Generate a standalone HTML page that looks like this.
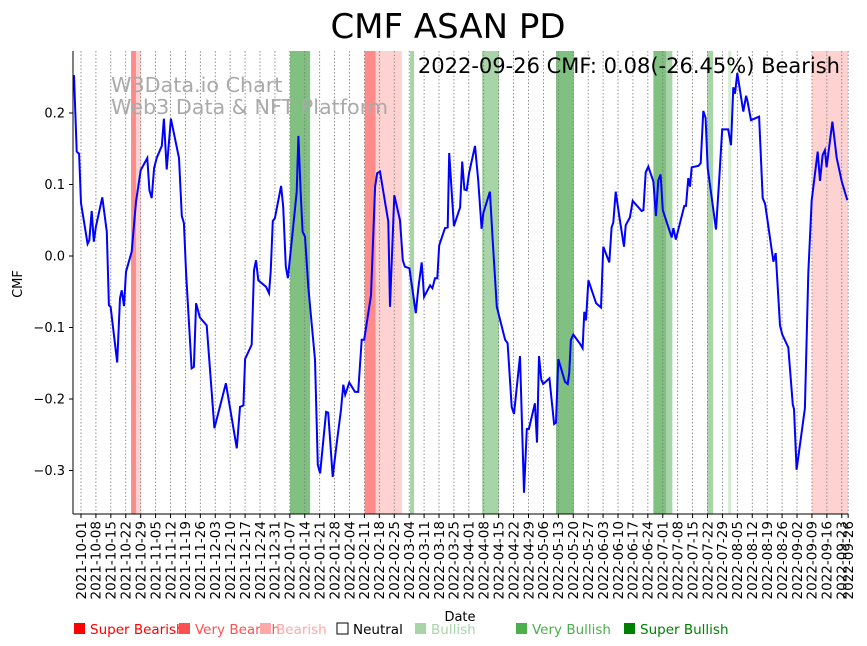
<!DOCTYPE html>
<html><head><meta charset="utf-8"><style>
body{margin:0;background:#fff;font-family:"Liberation Sans","DejaVu Sans",sans-serif}
svg{display:block}
</style></head><body>
<svg id="c" width="867" height="646" xmlns="http://www.w3.org/2000/svg">
<text x="448" y="38" font-size="34" text-anchor="middle" font-family="DejaVu Sans, sans-serif">CMF ASAN PD</text>
<g id="bands"></g>
<g id="grid"></g>
<g id="wm" fill="#aaa" font-size="20.7" font-family="DejaVu Sans, sans-serif">
<text x="111" y="92">W3Data.io Chart</text><text x="111" y="114">Web3 Data &amp; NFT Platform</text></g>
<path id="line" fill="none" stroke="#0000ff" stroke-width="2"/>
<text x="840" y="73" font-size="21" text-anchor="end" font-family="DejaVu Sans, sans-serif">2022-09-26 CMF: 0.08(-26.45%) Bearish</text>
<line x1="73" y1="51" x2="73" y2="514" stroke="#000"/>
<line x1="73" y1="514" x2="848" y2="514" stroke="#000"/>
<g id="yt" font-size="13" font-family="DejaVu Sans, sans-serif"></g>
<g id="xt" font-size="13.5" font-family="DejaVu Sans, sans-serif"></g>
<text transform="translate(22,284) rotate(-90)" font-size="13" text-anchor="middle" font-family="DejaVu Sans, sans-serif">CMF</text>
<text x="460" y="621" font-size="13" text-anchor="middle" font-family="DejaVu Sans, sans-serif">Date</text>
<g id="legend" font-size="13.5" font-family="DejaVu Sans, sans-serif"></g>
</svg>
<script>
const days=[-3.3,-2.0,-0.9,0,3.1,3.9,5.0,6.0,7.0,10.0,12.1,13.1,13.9,17.0,18.3,19.1,20.2,21.1,23.8,25.8,28.0,31.1,32.1,33.2,34.3,35.5,37.9,38.9,40.2,42.2,46.0,47.3,48.3,49.3,51.9,53.0,54.0,55.8,59.0,62.6,68.0,73.1,74.6,76.2,77.0,80.1,81.2,82.1,83.2,86.8,88.2,89.0,90.0,91.0,93.9,94.9,96.1,97.1,99.6,101.2,102.0,103.1,104.0,105.1,106.7,109.8,111.1,112.2,115.0,116.0,118.1,119.7,122.0,123.1,124.0,125.9,128.6,130.1,131.7,132.9,136.1,138.0,139.0,140.3,144.2,145.0,147.0,149.7,151.0,152.0,154.1,157.1,158.3,159.9,161.0,163.8,164.9,166.1,167.2,168.1,170.8,172.1,172.8,175.0,177.9,178.9,179.9,181.0,182.1,184.9,186.4,188.0,188.8,191.9,193.2,195.1,199.0,200.2,202.1,203.2,206.0,207.9,209.2,210.2,213.0,214.0,214.9,216.0,216.9,219.8,222.0,222.9,224.0,227.1,228.4,229.1,229.9,231.0,234.2,235.4,236.2,237.0,238.1,241.7,244.0,245.1,247.9,249.0,249.8,250.9,252.9,254.8,255.6,257.6,258.9,263.1,263.9,265.0,266.2,268.6,269.8,270.9,272.0,273.0,277.2,278.0,279.1,283.1,283.9,285.0,285.8,286.6,289.7,290.8,292.0,293.1,294.1,298.0,299.5,300.9,303.7,305.0,306.1,306.9,308.0,310.8,312.1,312.7,314.4,316.0,318.2,319.9,321.0,322.5,324.9,326.0,328.0,329.1,331.9,334.0,334.6,335.8,339.7,341.3,342.9,345.7,346.8,348.0,349.1,349.9,352.6,354.6,357.0,359.6];
const cmf=[0.253,0.146,0.143,0.074,0.017,0.022,0.063,0.020,0.041,0.082,0.034,-0.069,-0.071,-0.149,-0.059,-0.048,-0.070,-0.022,0.006,0.076,0.120,0.137,0.092,0.081,0.123,0.137,0.154,0.192,0.121,0.192,0.137,0.056,0.046,-0.024,-0.157,-0.155,-0.066,-0.086,-0.097,-0.241,-0.178,-0.269,-0.211,-0.209,-0.144,-0.124,-0.020,-0.006,-0.034,-0.043,-0.052,-0.022,0.049,0.053,0.098,0.069,-0.015,-0.031,0.041,0.090,0.168,0.088,0.034,0.027,-0.045,-0.145,-0.292,-0.304,-0.218,-0.219,-0.309,-0.269,-0.215,-0.180,-0.194,-0.177,-0.190,-0.190,-0.117,-0.117,-0.055,0.097,0.116,0.118,0.048,-0.071,0.085,0.050,-0.006,-0.015,-0.017,-0.080,-0.045,-0.009,-0.057,-0.041,-0.045,-0.031,-0.031,0.015,0.039,0.040,0.144,0.042,0.068,0.132,0.093,0.092,0.116,0.154,0.106,0.038,0.060,0.090,0.022,-0.071,-0.117,-0.122,-0.211,-0.221,-0.140,-0.331,-0.242,-0.242,-0.206,-0.261,-0.140,-0.173,-0.179,-0.171,-0.235,-0.233,-0.144,-0.176,-0.179,-0.164,-0.117,-0.110,-0.123,-0.129,-0.078,-0.090,-0.034,-0.066,-0.072,0.013,-0.009,0.040,0.047,0.090,0.050,0.013,0.043,0.054,0.077,0.063,0.064,0.117,0.125,0.104,0.056,0.106,0.114,0.064,0.026,0.039,0.023,0.070,0.070,0.109,0.097,0.124,0.126,0.130,0.203,0.193,0.123,0.037,0.107,0.177,0.177,0.155,0.236,0.227,0.256,0.202,0.224,0.217,0.190,0.192,0.195,0.081,0.073,0.043,-0.008,0.004,-0.097,-0.110,-0.128,-0.208,-0.214,-0.299,-0.213,-0.024,0.078,0.146,0.105,0.141,0.148,0.124,0.188,0.137,0.104,0.078];
const bandStart=[23.5,25.8,98.1,133.1,138.3,154.4,188.2,222.9,268.6,274.7,293.8,303.7,343.0];
const bandEnd=[25.8,28.2,107.5,138.3,150.6,156.3,196.2,231.3,274.7,277.5,296.6,305.1,359.9];
const bandType=["very-bearish","bearish","very-bullish","very-bearish","bearish","bullish","bullish","very-bullish","very-bullish","bullish","bullish","light-bullish","bearish"];
const yTicks=[-0.3,-0.2,-0.1,0.0,0.1,0.2];
const yTickLabels=["−0.3","−0.2","−0.1","0.0","0.1","0.2"];
const legendLabels=["Super Bearish","Very Bearish","Bearish","Neutral","Bullish","Very Bullish","Super Bullish"];
const legendColors=["#ff0000","#ff5050","#ffa8a8","none","#a8d5a8","#4caf4c","#008000"];
const legendX=[74,179,260,337,415,516,624];

const NS="http://www.w3.org/2000/svg";
const X0=81,PXD=2.131,Y0=256,PXV=715,TOP=51,BOT=514;
const xS=d=>X0+d*PXD, yS=v=>Y0-v*PXV;
const bandColor={"very-bearish":"#ff8a8a","bearish":"#ffd2d2","bullish":"#a8d5a8","very-bullish":"#80c080","light-bullish":"#d3ecd3"};
function mk(t,a,p){const e=document.createElementNS(NS,t);for(const k in a)e.setAttribute(k,a[k]);p.appendChild(e);return e;}
const bg=document.getElementById('bands');
for(let i=0;i<bandStart.length;i++){
  const r=mk('rect',{x:xS(bandStart[i]),y:TOP,width:xS(bandEnd[i])-xS(bandStart[i]),height:BOT-TOP,fill:bandColor[bandType[i]]},bg);
  
  
}
const start=new Date(Date.UTC(2021,9,1));
const tickDays=[];for(let d=0;d<=357;d+=7)tickDays.push(d);tickDays.push(360);
const gg=document.getElementById('grid'),xt=document.getElementById('xt');
tickDays.forEach(d=>{
  const x=xS(d);
  const g=mk('line',{x1:x,y1:TOP,x2:x,y2:BOT,stroke:'#777','stroke-width':0.8,'stroke-dasharray':'1.5,2'},gg);
  
  
  mk('line',{x1:x,y1:BOT,x2:x,y2:BOT+4,stroke:'#000'},xt);
  const dt=new Date(start.getTime()+d*864e5);
  const s=dt.toISOString().slice(0,10);
  const t=mk('text',{transform:`translate(${x+4.8},${BOT+7}) rotate(-90)`,'text-anchor':'end'},xt);
  t.textContent=s;
  
  
});
const yt=document.getElementById('yt');
yTicks.forEach((v,i)=>{
  const y=yS(v);
  mk('line',{x1:69,y1:y,x2:73,y2:y,stroke:'#000'},yt);
  const t=mk('text',{x:65,y:y+4.5,'text-anchor':'end'},yt);
  t.textContent=yTickLabels[i];
  
  
});
document.getElementById('line').setAttribute('d',days.map((d,i)=>(i?'L':'M')+xS(d).toFixed(1)+','+yS(cmf[i]).toFixed(1)).join(''));
const lg=document.getElementById('legend');
legendLabels.forEach((l,i)=>{
  const x=legendX[i];
  const r=mk('rect',{x:x,y:623,width:11,height:11,fill:legendColors[i]==='none'?'#fff':legendColors[i],stroke:legendColors[i]==='none'?'#000':'none'},lg);
  
  
  const t=mk('text',{x:x+16,y:634,fill:legendColors[i]==='none'?'#000':legendColors[i]},lg);
  t.textContent=l;
  
  
});
</script>
</body></html>
